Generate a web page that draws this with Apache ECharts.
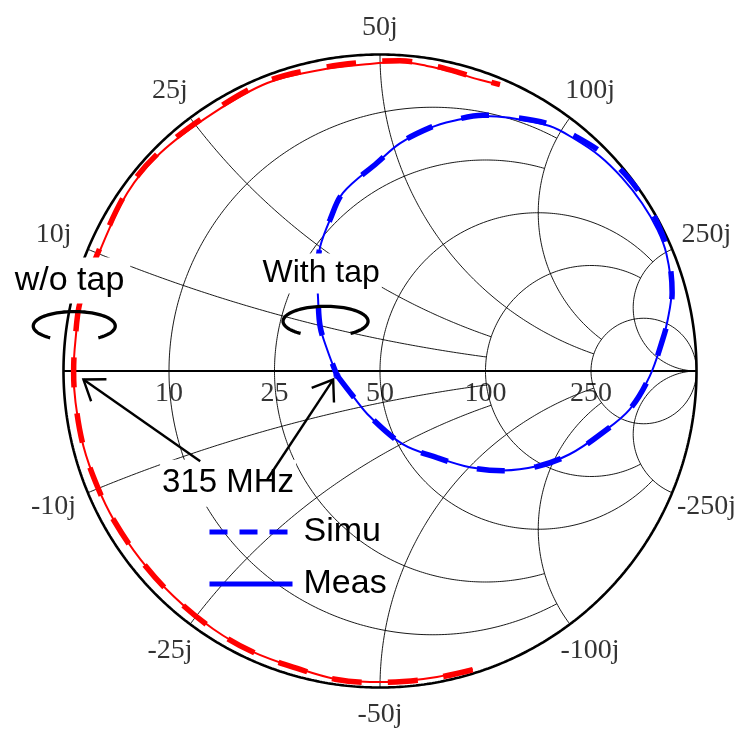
<!DOCTYPE html>
<html>
<head>
<meta charset="utf-8">
<script src="https://cdn.jsdelivr.net/npm/echarts@6/dist/echarts.min.js"></script>
<style>
  html, body { margin: 0; padding: 0; background: #fff; }
  #chart { width: 741px; height: 731px; }
</style>
</head>
<body>
<div id="chart"></div>
<script>
// ---- Smith chart grid values (ohms) ----
const Z0 = 50;
const resistanceValues = [10, 25, 50, 100, 250];
const reactanceValues = [10, 25, 50, 100, 250];
// reactance reached by each resistance circle, and resistance reached by each reactance arc
const resistanceReach = [100, 100, 250, 250, Infinity];
const reactanceReach = [100, 100, 250, 250, Infinity];

// ---- Reflection coefficient traces, [Re Γ, Im Γ] ----
// Antenna without tap (frequency sweep along the rim)
const woTapMeas = [
  [0.293, -0.942], [0.180, -0.967], [0.073, -0.980], [-0.032, -0.983], [-0.142, -0.973],
  [-0.252, -0.942], [-0.400, -0.888], [-0.527, -0.815], [-0.653, -0.711], [-0.757, -0.595],
  [-0.842, -0.469], [-0.893, -0.364], [-0.937, -0.238], [-0.962, -0.099], [-0.968, -0.002],
  [-0.962, 0.099], [-0.946, 0.216], [-0.893, 0.361], [-0.798, 0.563], [-0.694, 0.689],
  [-0.527, 0.815], [-0.356, 0.910], [-0.189, 0.951], [-0.032, 0.970], [0.063, 0.976],
  [0.148, 0.964], [0.230, 0.945], [0.315, 0.920], [0.379, 0.904]
];
const woTapSimu = [
  [0.293, -0.944], [0.180, -0.969], [0.073, -0.981], [-0.032, -0.984], [-0.142, -0.974],
  [-0.252, -0.943], [-0.400, -0.889], [-0.527, -0.816], [-0.653, -0.712], [-0.757, -0.596],
  [-0.842, -0.470], [-0.893, -0.365], [-0.937, -0.239], [-0.962, -0.100], [-0.968, -0.002],
  [-0.963, 0.099], [-0.948, 0.217], [-0.896, 0.362], [-0.801, 0.566], [-0.697, 0.692],
  [-0.530, 0.819], [-0.358, 0.915], [-0.190, 0.957], [-0.032, 0.977], [0.063, 0.980],
  [0.150, 0.969], [0.232, 0.948], [0.316, 0.922], [0.379, 0.905]
];
// Antenna with tap (resonant loop)
const withTapMeas = [
  [-0.136, -0.014], [-0.085, -0.080], [-0.032, -0.144], [0.073, -0.232], [0.180, -0.273],
  [0.284, -0.304], [0.388, -0.314], [0.495, -0.301], [0.599, -0.263], [0.703, -0.194],
  [0.789, -0.121], [0.852, -0.017], [0.893, 0.099], [0.909, 0.162], [0.921, 0.248],
  [0.905, 0.370], [0.877, 0.446], [0.828, 0.530], [0.765, 0.610], [0.693, 0.680],
  [0.615, 0.733], [0.536, 0.774], [0.410, 0.800], [0.325, 0.806], [0.230, 0.790],
  [0.158, 0.768], [0.063, 0.719], [-0.009, 0.658], [-0.117, 0.563], [-0.158, 0.478],
  [-0.189, 0.393], [-0.199, 0.315], [-0.196, 0.235], [-0.189, 0.140], [-0.167, 0.068],
  [-0.136, -0.014]
];
const withTapSimu = [
  [-0.136, -0.014], [-0.085, -0.080], [-0.032, -0.144], [0.073, -0.232], [0.180, -0.274],
  [0.284, -0.305], [0.388, -0.315], [0.495, -0.302], [0.599, -0.264], [0.703, -0.195],
  [0.789, -0.121], [0.852, -0.017], [0.893, 0.099], [0.910, 0.162], [0.923, 0.248],
  [0.910, 0.372], [0.884, 0.451], [0.838, 0.538], [0.776, 0.620], [0.700, 0.690],
  [0.620, 0.740], [0.540, 0.779], [0.412, 0.803], [0.325, 0.808], [0.230, 0.792],
  [0.158, 0.769], [0.063, 0.720], [-0.009, 0.658], [-0.117, 0.563], [-0.158, 0.478],
  [-0.189, 0.393], [-0.199, 0.315], [-0.196, 0.235], [-0.189, 0.140], [-0.167, 0.068],
  [-0.136, -0.014]
];
// 315 MHz points and where their call-out arrows start
const point315 = { woTap: [-0.937, -0.027], withTap: [-0.148, -0.027] };
const arrowTail315 = { woTap: [-0.568, -0.285], withTap: [-0.356, -0.342] };

// ---- Smith chart geometry ----
function toGamma(rOhm, xOhm) {
  const r = rOhm / Z0, x = xOhm / Z0;
  const den = (r + 1) * (r + 1) + x * x;
  return [(r * r - 1 + x * x) / den, (2 * x) / den];
}

function resistanceCircle(rOhm, xReach) {
  const r = rOhm / Z0;
  const c = r / (1 + r), R = 1 / (1 + r);
  let t0 = 0;
  if (isFinite(xReach)) {
    const p = toGamma(rOhm, xReach);
    t0 = Math.atan2(p[1], p[0] - c);
  }
  const pts = [];
  const N = 360;
  for (let i = 0; i <= N; i++) {
    const t = t0 + (2 * Math.PI - 2 * t0) * i / N;
    pts.push([c + R * Math.cos(t), R * Math.sin(t)]);
  }
  return pts;
}

function reactanceArc(xOhm, rReach) {
  const ax = Math.abs(xOhm), s = Math.sign(xOhm);
  const R = Z0 / ax;
  const ang = p => {
    let v = Math.atan2(p[1] - R, p[0] - 1);
    if (v < 0) v += 2 * Math.PI;
    return v;
  };
  const f0 = ang(toGamma(0, ax));
  let f1 = isFinite(rReach) ? ang(toGamma(rReach, ax)) : 1.5 * Math.PI;
  if (f1 < f0) f1 += 2 * Math.PI;
  const pts = [];
  const N = 300;
  for (let i = 0; i <= N; i++) {
    const f = f0 + (f1 - f0) * i / N;
    pts.push([1 + R * Math.cos(f), s * (R + R * Math.sin(f))]);
  }
  return pts;
}

function unitCircle() {
  const pts = [];
  for (let i = 0; i <= 720; i++) {
    const t = 2 * Math.PI * i / 720;
    pts.push([Math.cos(t), Math.sin(t)]);
  }
  return pts;
}

const gridLine = (data) => ({
  type: 'line', data, symbol: 'none', showSymbol: false, silent: true, clip: false,
  smooth: false, z: 1, lineStyle: { color: '#000', width: 0.9 },
  emphasis: { disabled: true }, tooltip: { show: false }
});

const noFill = { color: 'rgba(0,0,0,0)' };
const series = [];

// data traces first so the legend picks the blue styles
series.push({
  name: 'Simu', type: 'line', data: withTapSimu, symbol: 'none', smooth: 0.35, clip: false, z: 5,
  itemStyle: noFill,
  lineStyle: { color: '#0000ff', width: 5.5, type: [28, 30], cap: 'butt' }, emphasis: { disabled: true }
});
series.push({
  name: 'Meas', type: 'line', data: withTapMeas, symbol: 'none', smooth: 0.35, clip: false, z: 6,
  itemStyle: noFill,
  lineStyle: { color: '#0000ff', width: 2 }, emphasis: { disabled: true }
});
series.push({
  name: 'Simu', type: 'line', data: woTapSimu, symbol: 'none', smooth: 0.35, clip: false, z: 5,
  itemStyle: noFill,
  lineStyle: { color: '#ff0000', width: 5.5, type: [30, 26], cap: 'butt' }, emphasis: { disabled: true }
});
series.push({
  name: 'Meas', type: 'line', data: woTapMeas, symbol: 'none', smooth: 0.35, clip: false, z: 6,
  itemStyle: noFill,
  lineStyle: { color: '#ff0000', width: 2 }, emphasis: { disabled: true }
});
series.push({
  type: 'scatter', data: [withTapMeas[0]], symbol: 'circle', symbolSize: 7, z: 7,
  itemStyle: { color: '#0000ff' }, silent: true, clip: false
});

// grid: resistance circles and reactance arcs
resistanceValues.forEach((r, i) => series.push(gridLine(resistanceCircle(r, resistanceReach[i]))));
reactanceValues.forEach((x, i) => {
  series.push(gridLine(reactanceArc(x, reactanceReach[i])));
  series.push(gridLine(reactanceArc(-x, reactanceReach[i])));
});
// rim and real axis
series.push(Object.assign(gridLine(unitCircle()), { z: 4, lineStyle: { color: '#000', width: 2.6 } }));
series.push(Object.assign(gridLine([[-1, 0], [1, 0]]), { z: 4, lineStyle: { color: '#000', width: 2 } }));

// tick labels
const labelData = [];
resistanceValues.forEach(r => {
  labelData.push({ value: toGamma(r, 0), label: { formatter: String(r), offset: [0, 23] } });
});
reactanceValues.forEach(x => {
  [x, -x].forEach(v => {
    const g = toGamma(0, v);
    const d = 27 + 11 * Math.abs(g[0]);
    labelData.push({
      value: g,
      label: { formatter: (v < 0 ? '-' : '') + Math.abs(v) + 'j', offset: [g[0] * d, -g[1] * d] }
    });
  });
});
series.push({
  type: 'scatter', data: labelData, symbol: 'circle', symbolSize: 1, silent: true, clip: false, z: 8,
  itemStyle: { color: 'rgba(0,0,0,0)' },
  label: {
    show: true, position: 'inside', color: '#000', fontFamily: 'Liberation Serif', fontSize: 28,
    align: 'center', verticalAlign: 'middle'
  }
});

const chart = echarts.init(document.getElementById('chart'));
chart.setOption({
  animation: false,
  backgroundColor: '#fff',
  grid: { left: 63.5, top: 54.5, width: 633, height: 633, containLabel: false },
  xAxis: { type: 'value', min: -1, max: 1, show: false },
  yAxis: { type: 'value', min: -1, max: 1, show: false },
  legend: {
    orient: 'vertical', left: 207, top: 515, padding: 0, itemWidth: 83, itemHeight: 24, itemGap: 18,
    selectedMode: false,
    itemStyle: { opacity: 0 },
    data: [
      { name: 'Simu', lineStyle: { type: [18, 12], width: 5 } },
      { name: 'Meas', lineStyle: { width: 5 } }
    ],
    textStyle: { fontFamily: 'Liberation Sans', fontSize: 34, color: '#000', padding: [0, 0, 0, 6] }
  },
  series
});

// ---- call-outs drawn on top of the chart ----
const px = g => chart.convertToPixel({ gridIndex: 0 }, g);

function arrow(tail, tip) {
  const a = px(tail), b = px(tip);
  const ang = Math.atan2(a[1] - b[1], a[0] - b[0]);
  const L = 23, spread = 0.62;
  const h1 = [b[0] + L * Math.cos(ang + spread), b[1] + L * Math.sin(ang + spread)];
  const h2 = [b[0] + L * Math.cos(ang - spread), b[1] + L * Math.sin(ang - spread)];
  return [
    { type: 'polyline', z: 70, shape: { points: [a, b] }, style: { stroke: '#000', lineWidth: 2.4, fill: null } },
    { type: 'polyline', z: 70, shape: { points: [h1, b, h2] }, style: { stroke: '#000', lineWidth: 2.4, fill: null, lineJoin: 'miter' } }
  ];
}

// open elliptical "rotation" mark, gap at the bottom
function turnMark(center, rx, ry) {
  const c = px(center);
  const pts = [];
  const a0 = 126 * Math.PI / 180, a1 = 414 * Math.PI / 180;
  for (let i = 0; i <= 80; i++) {
    const t = a0 + (a1 - a0) * i / 80;
    pts.push([c[0] + rx * Math.cos(t), c[1] + ry * Math.sin(t)]);
  }
  return {
    type: 'polyline', z: 70, shape: { points: pts },
    style: { stroke: '#000', lineWidth: 3.3, fill: null, lineCap: 'butt', lineJoin: 'round' }
  };
}

function boxedText(text, center, size, pad) {
  const c = px(center);
  return {
    type: 'text', z: 60, x: c[0], y: c[1],
    style: {
      text, fill: '#000', font: size + 'px "Liberation Sans"',
      align: 'center', verticalAlign: 'middle', backgroundColor: '#fff', padding: pad
    }
  };
}

chart.setOption({
  graphic: [
    boxedText('w/o tap', [-0.981, 0.286], 34, [6, 6]),
    boxedText('With tap', [-0.186, 0.308], 32, [4, 2]),
    boxedText('315 MHz', [-0.480, -0.355], 33, [7, 2]),
    turnMark([-0.966, 0.142], 41, 14.5),
    turnMark([-0.172, 0.157], 42.5, 15),
    ...arrow(arrowTail315.woTap, point315.woTap),
    ...arrow(arrowTail315.withTap, point315.withTap)
  ]
});
</script>
</body>
</html>
